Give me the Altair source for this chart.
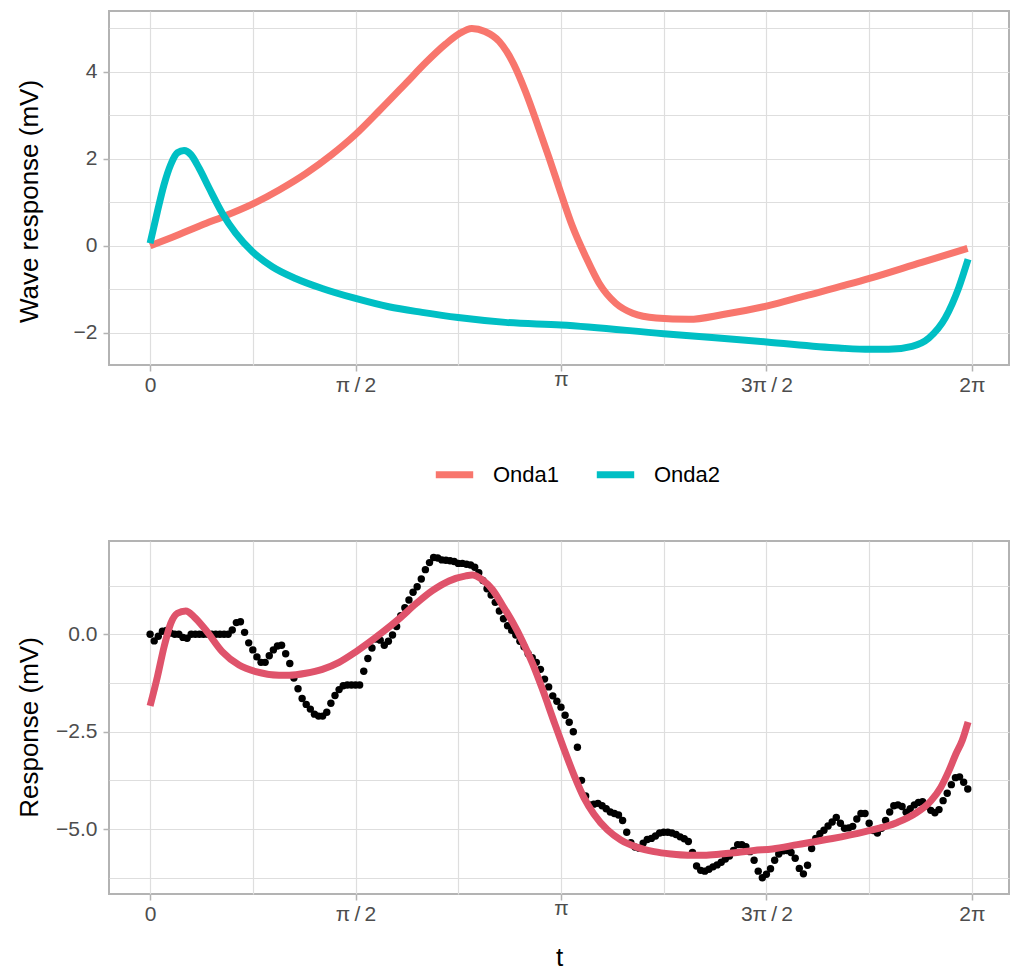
import altair as alt
import numpy as np
import pandas as pd

# ---- Top panel: the two component waves --------------------------------
onda1_t = [0.00, 0.17, 0.43, 0.55, 0.79, 0.99, 1.19, 1.39, 1.57, 1.75, 1.95, 2.11,
           2.26, 2.36, 2.46, 2.56, 2.67, 2.78, 2.87, 2.97, 3.05, 3.142, 3.229, 3.331,
           3.433, 3.56, 3.69, 3.87, 4.12, 4.38, 4.72, 5.01, 5.50, 5.90, 6.25]
onda1_v = [0.00, 0.20, 0.52, 0.66, 0.97, 1.29, 1.66, 2.10, 2.56, 3.10, 3.72, 4.22,
           4.64, 4.87, 5.00, 4.93, 4.70, 4.18, 3.55, 2.72, 2.03, 1.20, 0.45, -0.25,
           -0.86, -1.32, -1.55, -1.66, -1.69, -1.58, -1.38, -1.15, -0.75, -0.38, -0.06]

onda2_t = [0.00, 0.056, 0.107, 0.158, 0.209, 0.26, 0.311, 0.374, 0.451, 0.552, 0.654,
           0.781, 0.934, 1.112, 1.316, 1.571, 1.825, 2.08, 2.355, 2.717, 3.142, 3.927,
           4.712, 5.266, 5.503, 5.648, 5.826, 5.954, 6.081, 6.183, 6.254]
onda2_v = [0.06, 0.79, 1.41, 1.87, 2.14, 2.19, 2.10, 1.79, 1.33, 0.75, 0.29,
           -0.13, -0.48, -0.75, -0.98, -1.21, -1.40, -1.53, -1.65, -1.76, -1.82, -2.02,
           -2.21, -2.35, -2.38, -2.38, -2.31, -2.12, -1.65, -0.96, -0.31]

wave_names = ["Onda1", "Onda2"]
wave_colors = ["#F8766D", "#00BFC4"]

# ---- Bottom panel: observed signal (200 samples over one period) -----
obs_v = [
    0.00, -0.17, -0.05, 0.08, 0.10, 0.03, 0.00, 0.00, -0.08, -0.10,
    0.00, 0.00, 0.00, 0.00, 0.00, 0.00, 0.00, 0.00, 0.00, 0.00,
    0.11, 0.30, 0.32, 0.05, -0.22, -0.40, -0.58, -0.72, -0.72, -0.55,
    -0.40, -0.30, -0.28, -0.50, -0.75, -1.12, -1.40, -1.65, -1.80, -1.92,
    -2.05, -2.10, -2.10, -2.00, -1.77, -1.57, -1.42, -1.32, -1.30, -1.30,
    -1.30, -1.30, -0.95, -0.62, -0.35, -0.12, -0.15, -0.28, -0.18, -0.02,
    0.20, 0.48, 0.68, 0.88, 1.08, 1.22, 1.42, 1.66, 1.84, 1.97,
    1.96, 1.91, 1.90, 1.89, 1.87, 1.82, 1.82, 1.80, 1.78, 1.72,
    1.58, 1.38, 1.17, 1.01, 0.82, 0.60, 0.40, 0.22, 0.10, -0.02,
    -0.18, -0.32, -0.50, -0.60, -0.72, -0.90, -1.15, -1.35, -1.58, -1.72,
    -1.87, -2.08, -2.26, -2.50, -2.90, -3.75, -4.15, -4.38, -4.36, -4.34,
    -4.40, -4.48, -4.56, -4.60, -4.64, -4.78, -5.08, -5.35, -5.46, -5.49,
    -5.36, -5.27, -5.24, -5.18, -5.10, -5.08, -5.08, -5.10, -5.14, -5.20,
    -5.25, -5.32, -5.60, -5.95, -6.06, -6.08, -6.03, -5.97, -5.92, -5.85,
    -5.77, -5.69, -5.55, -5.40, -5.40, -5.45, -5.58, -5.80, -6.08, -6.25,
    -6.16, -6.02, -5.80, -5.64, -5.56, -5.55, -5.60, -5.75, -6.01, -6.15,
    -5.93, -5.50, -5.24, -5.12, -5.03, -4.92, -4.82, -4.70, -4.85, -4.98,
    -4.97, -4.93, -4.74, -4.60, -4.60, -4.85, -5.04, -5.10, -4.98, -4.78,
    -4.56, -4.40, -4.38, -4.42, -4.57, -4.48, -4.38, -4.32, -4.30, -4.40,
    -4.52, -4.58, -4.50, -4.27, -4.08, -3.86, -3.68, -3.66, -3.80, -3.97,
]
obs_t = np.linspace(0, 2 * np.pi, len(obs_v), endpoint=False)

# ---- Bottom panel: fitted model ----------------------------------------
fit_t = [0.000, 0.056, 0.107, 0.158, 0.209, 0.273, 0.336, 0.426, 0.553, 0.680,
         0.808, 0.986, 1.063, 1.190, 1.317, 1.445, 1.573, 1.776, 1.904, 2.031,
         2.158, 2.286, 2.414, 2.464, 2.540, 2.617, 2.693, 2.770, 2.846, 2.923,
         2.999, 3.089, 3.165, 3.242, 3.318, 3.394, 3.496, 3.599, 3.726, 3.853,
         3.981, 4.108, 4.235, 4.363, 4.490, 4.618, 4.758, 4.949, 5.204, 5.459,
         5.713, 5.841, 5.969, 6.045, 6.108, 6.160, 6.210, 6.254]
fit_v = [-1.84, -1.09, -0.32, 0.28, 0.54, 0.60, 0.45, 0.11, -0.45, -0.79,
         -0.96, -1.05, -1.05, -1.00, -0.90, -0.72, -0.45, 0.05, 0.40, 0.78,
         1.12, 1.37, 1.50, 1.52, 1.40, 1.15, 0.75, 0.32, -0.17, -0.74,
         -1.40, -2.25, -2.95, -3.62, -4.20, -4.62, -5.02, -5.28, -5.47, -5.58,
         -5.64, -5.67, -5.67, -5.64, -5.60, -5.55, -5.51, -5.40, -5.25, -5.07,
         -4.83, -4.62, -4.28, -3.93, -3.50, -3.08, -2.72, -2.25]

# ---- Axis ticks --------------------------------------------------------
x_grid_quarters = [0, 1, 2, 3, 4, 5, 6, 7, 8]          # multiples of pi/4
x_label_text = {0: "0", 2: "π\u2009/\u20092", 4: "π", 6: "3π\u2009/\u20092", 8: "2π"}
top_y_grid = [-2, -1, 0, 1, 2, 3, 4, 5]
top_y_labels = [-2, 0, 2, 4]
bot_y_grid = [-6.25, -5.0, -3.75, -2.5, -1.25, 0.0, 1.25]
bot_y_labels = [-5.0, -2.5, 0.0]

x_values = [q * np.pi / 4 for q in x_grid_quarters]
x_label_expr = ""
for q, txt in x_label_text.items():
    x_label_expr += f"abs(datum.value - {q} * PI / 4) < 0.01 ? '{txt}' : "
x_label_expr += "''"
x_major_test = " || ".join(f"abs(datum.value - {q} * PI / 4) < 0.01" for q in x_label_text)
x_pi_test = "abs(datum.value - PI) < 0.01"


def y_label_expr(labels, fmt):
    test = " || ".join(f"abs(datum.value - ({v})) < 0.001" for v in labels)
    return f"({test}) ? format(datum.value, '{fmt}') : ''", test


top_lab_expr, top_major_test = y_label_expr(top_y_labels, "d")
bot_lab_expr, bot_major_test = y_label_expr(bot_y_labels, ".1f")

X_DOMAIN = [-0.05 * 2 * np.pi, 6.567]
FONT = "Liberation Sans"


def x_axis(title=None):
    return alt.Axis(
        title=title if title else None,
        values=x_values,
        labelExpr=x_label_expr,
        labelPadding={"condition": {"test": x_pi_test, "value": -3}, "value": 3},
        tickOpacity={"condition": {"test": x_major_test, "value": 1}, "value": 0},
    )


def y_axis(title, grid_vals, expr, test, title_y):
    return alt.Axis(
        title=title,
        values=grid_vals,
        labelExpr=expr,
        tickOpacity={"condition": {"test": test, "value": 1}, "value": 0},
        titleX=-80,
        titleY=title_y,
        titleBaseline="middle",
    )


# ---- Top panel ---------------------------------------------------------
waves = pd.concat([
    pd.DataFrame({"t": onda1_t, "v": onda1_v, "wave": wave_names[0]}),
    pd.DataFrame({"t": onda2_t, "v": onda2_v, "wave": wave_names[1]}),
])

top = alt.Chart(waves).mark_line(strokeWidth=7, interpolate="monotone", strokeCap="butt").encode(
    x=alt.X("t:Q", scale=alt.Scale(domain=X_DOMAIN, nice=False, zero=False), axis=x_axis()),
    y=alt.Y("v:Q", scale=alt.Scale(domain=[-2.74, 5.40], nice=False, zero=False),
            axis=y_axis("Wave response (mV)", top_y_grid, top_lab_expr, top_major_test, 190)),
    color=alt.Color("wave:N", scale=alt.Scale(domain=wave_names, range=wave_colors),
                    legend=alt.Legend(title=None, orient="none", direction="horizontal",
                                      legendX=323, legendY=441)),
).properties(width=900, height=354)

# ---- Bottom panel ------------------------------------------------------
obs = pd.DataFrame({"t": obs_t, "v": obs_v})
fit = pd.DataFrame({"t": fit_t, "v": fit_v})

x_bot = alt.X("t:Q", scale=alt.Scale(domain=X_DOMAIN, nice=False, zero=False), axis=x_axis("t"))
y_bot = alt.Y("v:Q", scale=alt.Scale(domain=[-6.667, 2.395], nice=False, zero=False),
              axis=y_axis("Response (mV)", bot_y_grid, bot_lab_expr, bot_major_test, 186))

points = alt.Chart(obs).mark_circle(size=55, color="black", opacity=1).encode(x=x_bot, y=y_bot)
fit_line = alt.Chart(fit).mark_line(strokeWidth=7, color="#DF536B", interpolate="monotone",
                                    strokeCap="butt").encode(x=x_bot, y=y_bot)
bottom = alt.layer(points, fit_line).properties(width=900, height=353)

chart = alt.vconcat(top, bottom, spacing=50).resolve_scale(color="independent").properties(
    padding={"left": 15, "top": 10, "right": 0, "bottom": 0},
    background="white",
).configure_view(
    stroke="#B3B3B3", strokeWidth=2,
).configure_axis(
    domain=False,
    grid=True,
    gridColor="#DEDEDE",
    gridWidth=1.2,
    tickColor="#B3B3B3",
    tickWidth=1.5,
    tickSize=6,
    labelFont=FONT,
    labelFontSize=21,
    labelColor="#4D4D4D",
    labelPadding=6,
    titleFont=FONT,
    titleFontSize=26,
    titleFontWeight="normal",
    titleColor="black",
).configure_axisX(
    titlePadding=20,
).configure_legend(
    labelFont=FONT,
    labelFontSize=22,
    labelColor="black",
    symbolType="stroke",
    symbolStrokeWidth=7,
    symbolSize=1400,
    labelOffset=16,
    columnPadding=22,
)

chart.save("out.html", embed_options={"renderer": "svg", "actions": False})
